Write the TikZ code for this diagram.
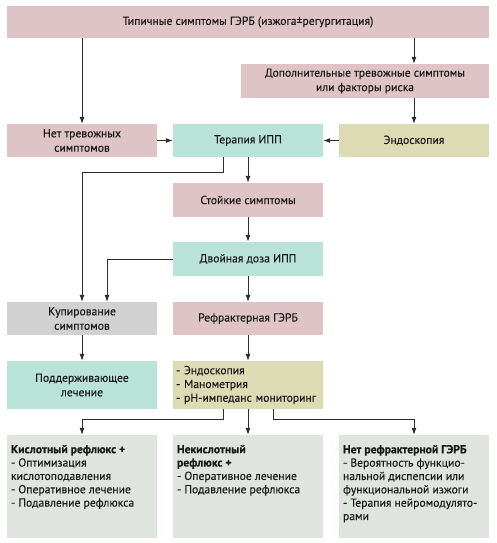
\documentclass[tikz,border=0pt]{standalone}
\usepackage{fontspec}
\setmainfont{PT Sans}
\newfontfamily\gerdfont{PT Sans}[FakeBold=0.3]
\usetikzlibrary{arrows.meta}

\definecolor{gerdpink}{RGB}{222,196,199}
\definecolor{gerdteal}{RGB}{185,226,217}
\definecolor{gerdolive}{RGB}{221,219,180}
\definecolor{gerdgray}{RGB}{209,209,209}
\definecolor{gerdpale}{RGB}{223,228,222}
\definecolor{gerdline}{RGB}{45,45,45}

\begin{document}
\begin{tikzpicture}[x=1bp, y=-1bp, >={Latex[length=7bp,width=5bp]},
    box/.style={minimum width=150bp, minimum height=33bp, inner sep=2bp,
        align=center, font=\gerdfont\fontsize{11.7}{14.5}\selectfont, text=black!90},
    listbox/.style={box, align=left, text width=144bp, inner sep=3bp,
        font=\gerdfont\fontsize{11.7}{13.8}\selectfont},
    resbox/.style={box, fill=gerdpale, inner xsep=4bp, inner ysep=6bp,
        font=\gerdfont\fontsize{11.7}{13.4}\selectfont},
    arr/.style={->, draw=gerdline, line width=0.8bp}]
    \useasboundingbox (0,0) rectangle (497,543);

    % Defining the boxes
    \node[box, fill=gerdpink, minimum width=482bp, minimum height=32bp] (typical) at (248,22) {Типичные симптомы ГЭРБ (изжога±регургитация)};
    \node[box, fill=gerdpink, minimum width=248bp, minimum height=34bp] (alarm) at (365,81) {Дополнительные тревожные симптомы\\или факторы риска};
    \node[box, fill=gerdpink] (noalarm) at (82,140.5) {Нет тревожных\\симптомов};
    \node[box, fill=gerdteal] (ppi) at (248,140.5) {Терапия ИПП};
    \node[box, fill=gerdolive] (endo) at (414,140.5) {Эндоскопия};
    \node[box, fill=gerdpink, minimum height=34bp] (persist) at (248,200) {Стойкие симптомы};
    \node[box, fill=gerdteal, minimum height=34bp] (double) at (248,259) {Двойная доза ИПП};
    \node[box, fill=gerdgray] (relief) at (82,318.5) {Купирование\\симптомов};
    \node[box, fill=gerdpink] (refr) at (248,318.5) {Рефрактерная ГЭРБ};
    \node[box, fill=gerdteal, minimum height=48bp] (maint) at (82,385) {Поддерживающее\\лечение};
    \node[listbox, fill=gerdolive, minimum height=48bp] (tests) at (248,385) {- Эндоскопия\\- Манометрия\\- pH-импеданс мониторинг};

    % Results
    \node[resbox] (acid) at (82,486.5) {\parbox[c][91bp][t]{142bp}{\raggedright\vspace*{4bp}
        \textbf{Кислотный рефлюкс +}\\- Оптимизация\\кислотоподавления\\- Оперативное лечение\\- Подавление рефлюкса}};
    \node[resbox] (nonacid) at (248,486.5) {\parbox[c][91bp][t]{142bp}{\raggedright\vspace*{4bp}
        \textbf{Некислотный}\\\textbf{рефлюкс +}\\- Оперативное лечение\\- Подавление рефлюкса}};
    \node[resbox] (norefr) at (414,486.5) {\parbox[c][91bp][t]{142bp}{\raggedright\vspace*{4bp}
        \textbf{Нет рефрактерной ГЭРБ}\\- Вероятность функцио-\\нальной диспепсии или\\функциональной изжоги\\- Терапия нейромодулято-\\рами}};

    % Drawing the arrows
    \draw[arr] (typical.south -| noalarm) -- (noalarm);
    \draw[arr] (typical.south -| endo) -- (alarm.north -| endo);
    \draw[arr] (alarm.south -| endo) -- (endo);
    \draw[arr] (noalarm) -- (ppi);
    \draw[arr] (endo) -- (ppi);
    \draw[arr] (ppi) -- (persist);
    \draw[arr] ([xshift=-25bp]ppi.south) -- ++(0,15) -| (relief.north);
    \draw[arr] (persist) -- (double);
    \draw[arr] (double.west) -| ([xshift=25bp]relief.north);
    \draw[arr] (double) -- (refr);
    \draw[arr] (relief) -- (maint);
    \draw[arr] (refr) -- (tests);
    \draw[arr] ([xshift=-25bp]tests.south) -- ++(0,10) -| (acid.north);
    \draw[arr] (tests) -- (nonacid);
    \draw[arr] ([xshift=25bp]tests.south) -- ++(0,10) -| (norefr.north);
\end{tikzpicture}
\end{document}
